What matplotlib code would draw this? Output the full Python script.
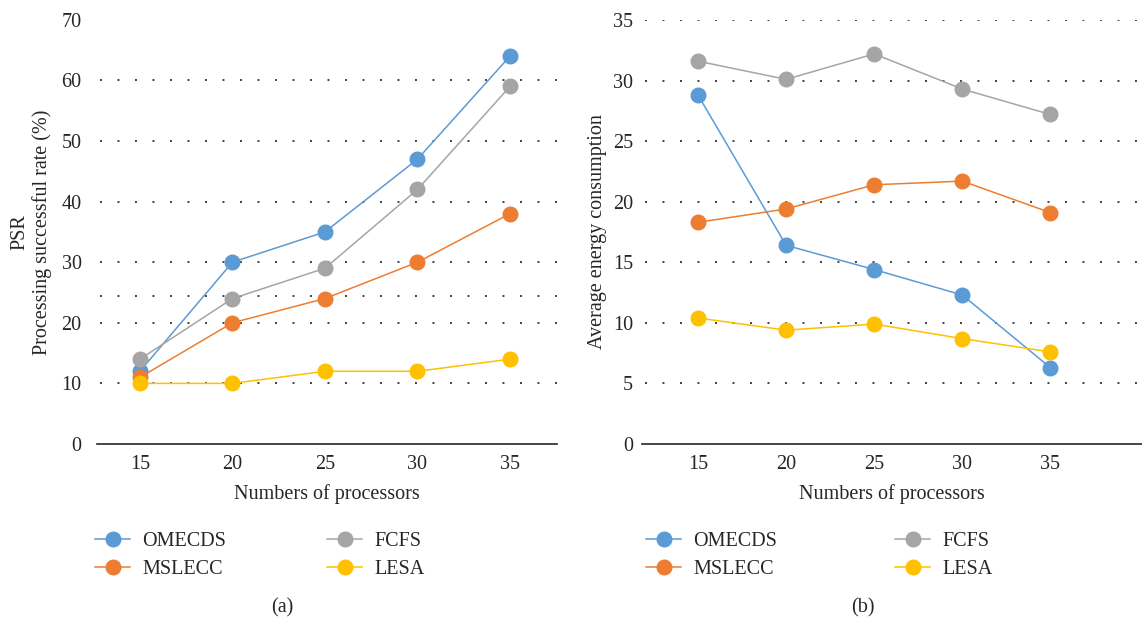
import numpy as np
import matplotlib
matplotlib.use('Agg')
import matplotlib.pyplot as plt

plt.rcParams['font.family'] = ['Liberation Serif', 'DejaVu Serif']
plt.rcParams['text.color'] = '#262626'
plt.rcParams['axes.labelcolor'] = '#262626'
plt.rcParams['xtick.color'] = '#262626'
plt.rcParams['ytick.color'] = '#262626'

# data
processors = [15, 20, 25, 30, 35]
series_names = ['OMECDS', 'MSLECC', 'FCFS', 'LESA']
colors = ['#5B9BD5', '#ED7D31', '#A5A5A5', '#FFC000']

# (a) processing successful rate (%)
psr_omecds = [12, 30, 35, 47, 64]
psr_mslecc = [11, 20, 24, 30, 38]
psr_fcfs = [14, 24, 29, 42, 59]
psr_lesa = [10, 10, 12, 12, 14]

# (b) average energy consumption
en_omecds = [28.8, 16.4, 14.4, 12.3, 6.3]
en_mslecc = [18.3, 19.4, 21.4, 21.7, 19.1]
en_fcfs = [31.6, 30.1, 32.2, 29.3, 27.2]
en_lesa = [10.4, 9.4, 9.9, 8.7, 7.6]

W, H = 1142, 622
FS = 14.5
fig = plt.figure(figsize=(W / 100, H / 100), dpi=100)

def px(x0, y0, x1, y1):
    # pixel box -> figure fraction [left, bottom, width, height]
    return [x0 / W, 1 - y1 / H, (x1 - x0) / W, (y1 - y0) / H]

ax1 = fig.add_axes(px(97, 19.8, 557, 444))
ax2 = fig.add_axes(px(642, 20, 1142, 444))

def style(ax, ylim, yticks, grid_vals, xlim, ypad):
    ax.set_xlim(*xlim)
    ax.set_ylim(*ylim)
    ax.set_xticks(processors)
    ax.set_yticks(yticks)
    for s in ['top', 'right', 'left']:
        ax.spines[s].set_visible(False)
    ax.spines['bottom'].set_color('#262626')
    ax.spines['bottom'].set_linewidth(1.2)
    ax.tick_params(axis='both', length=0, labelsize=FS)
    ax.tick_params(axis='y', pad=ypad)
    ax.tick_params(axis='x', pad=8)
    for g in grid_vals:
        ax.axhline(g, xmin=0.006, color='#404040', linestyle=(0, (1, 8)), linewidth=1.4, zorder=0)
    ax.set_xlabel('Numbers of processors', fontsize=FS, labelpad=7)

style(ax1, (0, 70), range(0, 71, 10), [10, 20, 24.4, 30, 40, 50, 60], (12.68, 37.54), 11)
style(ax2, (0, 35), range(0, 36, 5), [5, 10, 15, 20, 25, 30, 35], (11.82, 40.2), 6.5)

for vals, name, c in zip([psr_omecds, psr_mslecc, psr_fcfs, psr_lesa], series_names, colors):
    ax1.plot(processors, vals, color=c, linewidth=1.1, marker='o', markersize=10.5, label=name)
for vals, name, c in zip([en_omecds, en_mslecc, en_fcfs, en_lesa], series_names, colors):
    ax2.plot(processors, vals, color=c, linewidth=1.1, marker='o', markersize=10.5, label=name)

ax1.set_ylabel('PSR\nProcessing successful rate (%)', fontsize=FS, labelpad=7, linespacing=1.2)
ax2.set_ylabel('Average energy consumption', fontsize=FS, labelpad=4.5)

leg1 = ax1.legend(loc='upper left', bbox_to_anchor=(95 / W, 1 - 532 / H), bbox_transform=fig.transFigure,
                  ncol=2, frameon=False, fontsize=FS, handlelength=1.75, handletextpad=0.6,
                  columnspacing=5.0, labelspacing=0.45, borderpad=0, borderaxespad=0)
leg2 = ax2.legend(loc='upper left', bbox_to_anchor=(646 / W, 1 - 532 / H), bbox_transform=fig.transFigure,
                  ncol=2, frameon=False, fontsize=FS, handlelength=1.75, handletextpad=0.6,
                  columnspacing=5.85, labelspacing=0.45, borderpad=0, borderaxespad=0)

fig.text(282 / W, 1 - 608 / H, '(a)', ha='center', va='center', fontsize=FS)
fig.text(863 / W, 1 - 608 / H, '(b)', ha='center', va='center', fontsize=FS)

fig.savefig('out.png', dpi=100)
